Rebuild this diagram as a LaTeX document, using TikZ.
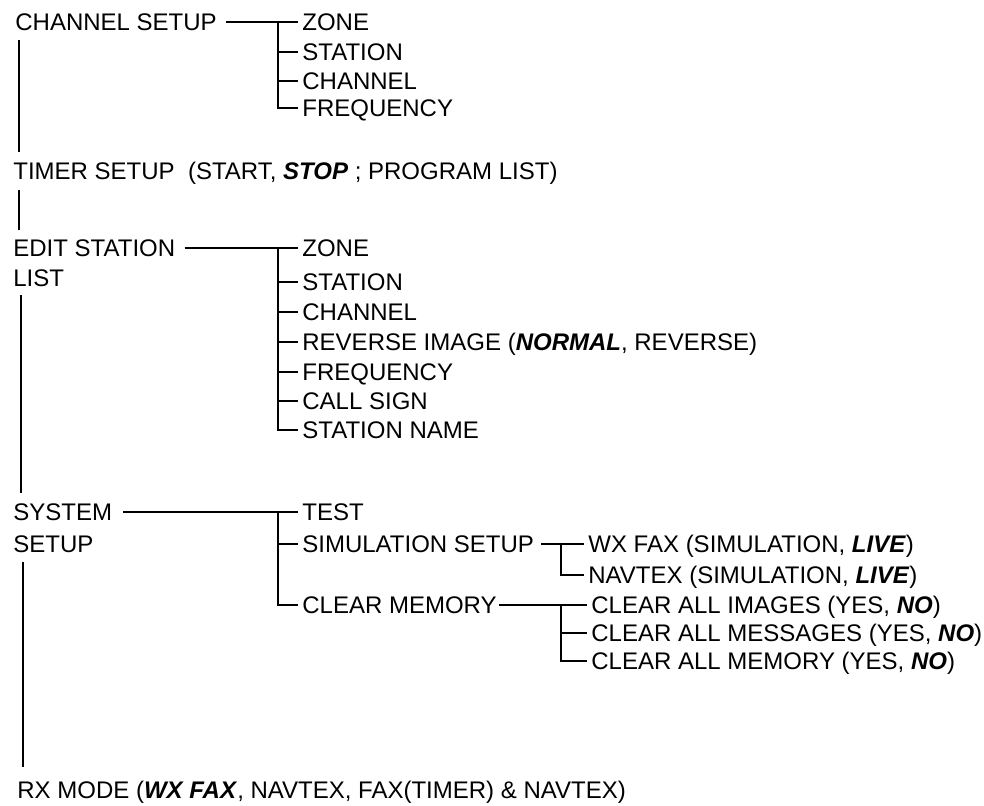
\documentclass[tikz,border=0pt]{standalone}
\usepackage{fontspec}
\setmainfont{Liberation Sans}
\newcommand{\dflt}[1]{\textbf{\textit{#1}}}

\begin{document}
\begin{tikzpicture}[x=0.5pt,y=-0.5pt,
		item/.style={anchor=west,inner xsep=2pt,inner ysep=0pt,text height=8.6pt,text depth=0pt,
			font=\fontsize{12}{14}\selectfont},
		branch/.style={line width=1.3pt}]
		
		\useasboundingbox (0,0) rectangle (984,805);
		
		% main menu
		\node[item] (chs) at (11,22) {CHANNEL SETUP};
		\node[item] (tim) at (9,171) {TIMER SETUP\ \ (START, \dflt{STOP} ; PROGRAM LIST)};
		\node[item] (esa) at (9,248) {EDIT STATION};
		\node[item] (esb) at (9,278) {LIST};
		\node[item] (ssa) at (9,512) {SYSTEM};
		\node[item] (ssb) at (9,544) {SETUP};
		\node[item] (rx) at (13,790) {RX MODE (\dflt{WX FAX}, NAVTEX, FAX(TIMER) \& NAVTEX)};
		
		% spine
		\draw[branch] ([xshift=4pt,yshift=-4.7pt]chs.south west) -- ([xshift=5pt,yshift=5.2pt]tim.north west);
		\draw[branch] ([xshift=5pt,yshift=-5.2pt]tim.south west) -- ([xshift=5pt,yshift=4.7pt]esa.north west);
		\draw[branch] ([xshift=6pt,yshift=-4.2pt]esb.south west) -- ([xshift=6pt,yshift=5.2pt]ssa.north west);
		\draw[branch] ([xshift=7pt,yshift=-4.7pt]ssb.south west) -- ([xshift=5pt,yshift=7.2pt]rx.north west);
		
		% channel setup
		\node[item] (cza) at (298,22) {ZONE};
		\node[item] (cst) at (298,52) {STATION};
		\node[item] (cch) at (298,81) {CHANNEL};
		\node[item] (cfq) at (298,108) {FREQUENCY};
		\coordinate (t1) at (278,22);
		\draw[branch] ([xshift=2.5pt]chs.east) -- (cza.west);
		\draw[branch] (t1) |- (cfq.west);
		\draw[branch] (t1 |- cst.west) -- (cst.west);
		\draw[branch] (t1 |- cch.west) -- (cch.west);
		
		% edit station list
		\node[item] (eza) at (298,248) {ZONE};
		\node[item] (est) at (298,282) {STATION};
		\node[item] (ech) at (298,312) {CHANNEL};
		\node[item] (erv) at (298,342) {REVERSE IMAGE (\dflt{NORMAL}, REVERSE)};
		\node[item] (efq) at (298,372) {FREQUENCY};
		\node[item] (ecs) at (298,401) {CALL SIGN};
		\node[item] (esn) at (298,430) {STATION NAME};
		\coordinate (t2) at (278,248);
		\draw[branch] ([xshift=2.5pt]esa.east) -- (eza.west);
		\draw[branch] (t2) |- (esn.west);
		\draw[branch] (t2 |- est.west) -- (est.west);
		\draw[branch] (t2 |- ech.west) -- (ech.west);
		\draw[branch] (t2 |- erv.west) -- (erv.west);
		\draw[branch] (t2 |- efq.west) -- (efq.west);
		\draw[branch] (t2 |- ecs.west) -- (ecs.west);
		
		% system setup
		\node[item] (tst) at (298,512) {TEST};
		\node[item] (sim) at (298,544) {SIMULATION SETUP};
		\node[item] (clr) at (298,605) {CLEAR MEMORY};
		\coordinate (t3) at (278,512);
		\draw[branch] ([xshift=3.5pt]ssa.east) -- (tst.west);
		\draw[branch] (t3) |- (clr.west);
		\draw[branch] (t3 |- sim.west) -- (sim.west);
		
		% simulation setup
		\node[item] (wxf) at (584,544) {WX FAX (SIMULATION, \dflt{LIVE})};
		\node[item] (nvt) at (584,575) {NAVTEX (SIMULATION, \dflt{LIVE})};
		\coordinate (t4) at (561,544);
		\draw[branch] ([xshift=1.5pt]sim.east) -- (wxf.west);
		\draw[branch] (t4) |- (nvt.west);
		
		% clear memory
		\node[item] (cai) at (587,605) {CLEAR ALL IMAGES (YES, \dflt{NO})};
		\node[item] (cam) at (587,633) {CLEAR ALL MESSAGES (YES, \dflt{NO})};
		\node[item] (cay) at (587,661) {CLEAR ALL MEMORY (YES, \dflt{NO})};
		\coordinate (t5) at (561,605);
		\draw[branch] ([xshift=-1pt]clr.east) -- (cai.west);
		\draw[branch] (t5) |- (cay.west);
		\draw[branch] (t5 |- cam.west) -- (cam.west);
		
	\end{tikzpicture}
\end{document}
